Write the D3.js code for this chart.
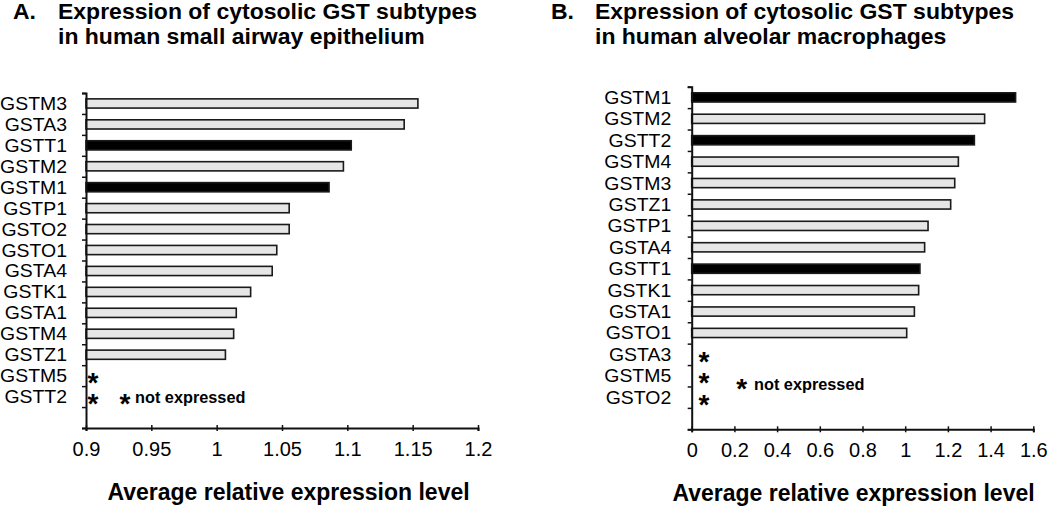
<!DOCTYPE html>
<html>
<head>
<meta charset="utf-8">
<script src="https://cdn.jsdelivr.net/npm/d3@7/dist/d3.min.js"></script>
<style>
  html, body { margin: 0; padding: 0; background: #fff; }
  svg { display: block; font-family: Arial, "Liberation Sans", Helvetica, sans-serif; }
</style>
</head>
<body>
<svg id="chart" width="1050" height="506"></svg>
<script>
// ---------- Data ----------
const categoriesA = ["GSTM3","GSTA3","GSTT1","GSTM2","GSTM1","GSTP1","GSTO2","GSTO1","GSTA4","GSTK1","GSTA1","GSTM4","GSTZ1","GSTM5","GSTT2",""];
const valuesA = [1.154, 1.1435, 1.103, 1.097, 1.086, 1.0555, 1.0555, 1.046, 1.0425, 1.026, 1.015, 1.013, 1.0067, null, null, null];
const highlightA = ["GSTT1","GSTM1"];
const notExpressedA = ["GSTM5","GSTT2"];
const ticksA = [0.9, 0.95, 1, 1.05, 1.1, 1.15, 1.2];
const tickLabelsA = ["0.9","0.95","1","1.05","1.1","1.15","1.2"];
const titleA = ["Expression of cytosolic GST subtypes", "in human small airway epithelium"];

const categoriesB = ["GSTM1","GSTM2","GSTT2","GSTM4","GSTM3","GSTZ1","GSTP1","GSTA4","GSTT1","GSTK1","GSTA1","GSTO1","GSTA3","GSTM5","GSTO2",""];
const valuesB = [1.517, 1.372, 1.324, 1.249, 1.232, 1.213, 1.107, 1.091, 1.069, 1.063, 1.043, 1.007, null, null, null, null];
const highlightB = ["GSTM1","GSTT2","GSTT1"];
const notExpressedB = ["GSTA3","GSTM5","GSTO2"];
const ticksB = [0, 0.2, 0.4, 0.6, 0.8, 1, 1.2, 1.4, 1.6];
const tickLabelsB = ["0","0.2","0.4","0.6","0.8","1","1.2","1.4","1.6"];
const titleB = ["Expression of cytosolic GST subtypes", "in human alveolar macrophages"];

const xAxisTitle = "Average relative expression level";
const footnote = "not expressed";

// ---------- Drawing ----------
const svg = d3.select("#chart");

function drawPanel(cfg) {
  const g = svg.append("g");
  const x = d3.scaleLinear().domain(cfg.xDomain).range([cfg.left, cfg.right]);
  const y = d3.scaleBand().domain(cfg.cats).range([cfg.top, cfg.bottom]);
  const yb = d3.scaleLinear().domain([0, cfg.cats.length]).range([cfg.top, cfg.bottom]);

  // Title
  g.append("text").attr("font-weight", "bold").attr("font-size", 21.5)
    .attr("transform", `translate(${cfg.letterX},19) scale(1.07,1)`).text(cfg.letter);
  cfg.title.forEach((t, i) => {
    g.append("text").attr("font-weight", "bold").attr("font-size", 21.5)
      .attr("transform", `translate(${cfg.titleX},${19 + i * 25}) scale(1.07,1)`).text(t);
  });

  // Bars
  const data = cfg.cats.map((c, i) => ({cat: c, v: cfg.values[i]})).filter(d => d.v != null);
  const bh = 9.2;
  g.selectAll("rect.bar").data(data).join("rect")
    .attr("class", "bar")
    .attr("x", x(cfg.xDomain[0]))
    .attr("y", d => y(d.cat) + y.bandwidth() / 2 - bh / 2)
    .attr("width", d => x(d.v) - x(cfg.xDomain[0]))
    .attr("height", bh)
    .attr("fill", d => cfg.highlight.includes(d.cat) ? "#000" : "#e6e6e6")
    .attr("stroke", "#1a1a1a")
    .attr("stroke-width", 1.6);

  // Y boundary ticks + axis line
  const yTickAxis = g.append("g").attr("transform", `translate(${cfg.left},0)`)
    .call(d3.axisLeft(yb).tickValues(d3.range(0, cfg.cats.length + 1)).tickSize(4).tickFormat(""));
  yTickAxis.select(".domain").attr("stroke", "#111").attr("stroke-width", 2);
  yTickAxis.selectAll(".tick line").attr("stroke", "#111").attr("stroke-width", 1.5);

  // Y category labels
  const sY = 1.08;
  const yLab = g.append("g").attr("transform", `translate(${cfg.left},0)`)
    .call(d3.axisLeft(y).tickSize(0).tickPadding(0));
  yLab.select(".domain").remove();
  yLab.selectAll(".tick text")
    .attr("font-size", 18).attr("font-family", "Arial, 'Liberation Sans', sans-serif")
    .attr("fill", "#000")
    .attr("x", -cfg.labPad / sY).attr("dy", "0.36em")
    .attr("transform", `scale(${sY},1)`);

  // X axis
  const xa = g.append("g").attr("transform", `translate(0,${cfg.bottom})`)
    .call(d3.axisBottom(x).tickValues(cfg.ticks).tickSize(3)
      .tickFormat((d, i) => cfg.tickLabels[i]));
  xa.select(".domain").attr("stroke", "#111").attr("stroke-width", 2);
  xa.selectAll(".tick line").attr("stroke", "#111").attr("stroke-width", 1.5).attr("y1", -3).attr("y2", 3);
  xa.selectAll(".tick text")
    .attr("font-size", 20).attr("font-family", "Arial, 'Liberation Sans', sans-serif")
    .attr("fill", "#000")
    .attr("y", cfg.tickBase).attr("dy", 0);

  // X axis title
  g.append("text").attr("font-weight", "bold").attr("font-size", 23)
    .attr("text-anchor", "middle")
    .attr("x", cfg.axisTitleX).attr("y", cfg.axisTitleY).text(xAxisTitle);

  // Not-expressed asterisks: one text run, one positioned glyph per category
  const sx = x(cfg.xDomain[0]) + cfg.starOff;
  g.append("text").attr("font-weight", "bold").attr("font-size", 28)
    .attr("text-anchor", "middle")
    .attr("x", cfg.notExpressed.map(() => sx).join(" "))
    .attr("y", cfg.notExpressed.map(c => y(c) + y.bandwidth() / 2 + 16.5).join(" "))
    .text(cfg.notExpressed.map(() => "*").join(""));

  // Footnote
  const note = g.append("text").attr("font-weight", "bold");
  note.append("tspan").attr("font-size", 28).attr("text-anchor", "middle")
    .attr("x", cfg.noteStarX).attr("y", cfg.noteStarY + 16.5).text("*");
  note.append("tspan").attr("font-size", 16.3)
    .attr("x", cfg.noteX).attr("y", cfg.noteY).text(footnote);
}

drawPanel({
  letter: "A.", letterX: 13, titleX: 58, title: titleA,
  cats: categoriesA, values: valuesA, highlight: highlightA, notExpressed: notExpressedA,
  xDomain: [0.9, 1.2], ticks: ticksA, tickLabels: tickLabelsA,
  left: 86, right: 478, top: 93, bottom: 428, labPad: 19,
  tickBase: 28, axisTitleX: 288.5, axisTitleY: 500,
  starOff: 7, noteStarX: 125, noteStarY: 396.5, noteX: 135, noteY: 402.5
});

drawPanel({
  letter: "B.", letterX: 551, titleX: 595, title: titleB,
  cats: categoriesB, values: valuesB, highlight: highlightB, notExpressed: notExpressedB,
  xDomain: [0, 1.6], ticks: ticksB, tickLabels: tickLabelsB,
  left: 691.7, right: 1033.3, top: 86.7, bottom: 429.3, labPad: 20.5,
  tickBase: 28, axisTitleX: 853.5, axisTitleY: 501,
  starOff: 12.3, noteStarX: 741.7, noteStarY: 381.7, noteX: 754, noteY: 390
});
</script>
</body>
</html>
